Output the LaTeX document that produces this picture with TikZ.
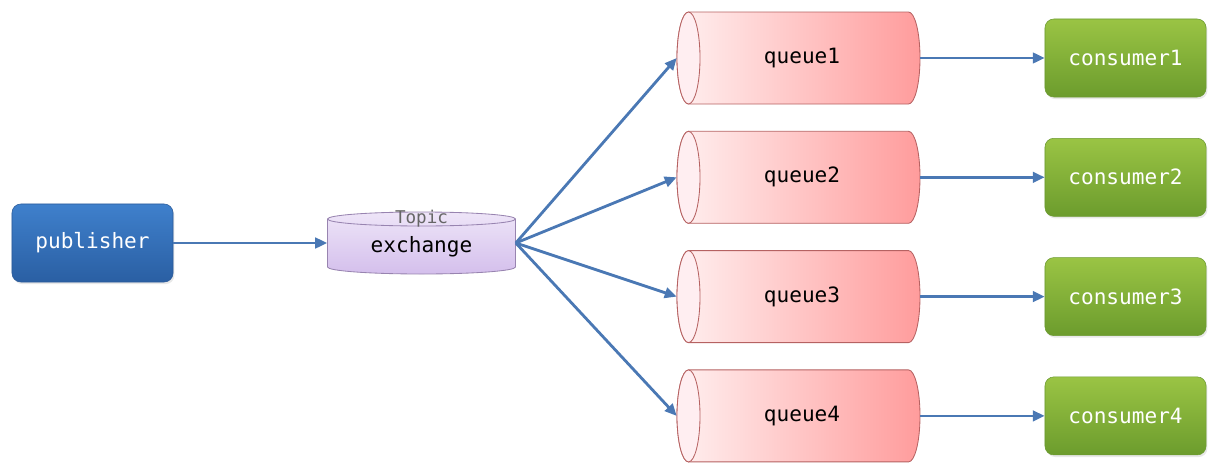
\documentclass[tikz,border=0pt]{standalone}
\usepackage{fontspec}
\setmonofont{DejaVu Sans Mono}
\usetikzlibrary{arrows.meta,shadows}

\definecolor{arrowblue}{HTML}{4A78B4}
\definecolor{pubtop}{HTML}{3F80CC}
\definecolor{pubbot}{HTML}{2A5FA3}
\definecolor{pubedge}{HTML}{2B5A98}
\definecolor{contop}{HTML}{9AC444}
\definecolor{conbot}{HTML}{6C9C2D}
\definecolor{conedge}{HTML}{6B9A31}
\definecolor{exctop}{HTML}{EEE5F8}
\definecolor{excbot}{HTML}{D4BFEC}
\definecolor{excedge}{HTML}{9884B0}
\definecolor{qleft}{HTML}{FFF0F0}
\definecolor{qright}{HTML}{FF9C9C}
\definecolor{qface}{HTML}{FFEEF1}
\definecolor{qedge}{HTML}{B66262}

\begin{document}
\begin{tikzpicture}[x=0.025cm, y=0.025cm,
    flow/.style={draw=arrowblue, line width=2pt, -{Triangle[length=8.5pt,width=7.5pt]}},
    box/.style={rounded corners=0.22cm, minimum width=4.025cm, minimum height=1.95cm,
      font=\ttfamily\fontsize{15}{18}\selectfont, text=white,
      drop shadow={opacity=0.18, shadow xshift=1pt, shadow yshift=-1.5pt}},
    pubbox/.style={box, draw=pubedge, top color=pubtop, bottom color=pubbot},
    conbox/.style={box, draw=conedge, top color=contop, bottom color=conbot},
    qtext/.style={font=\ttfamily\fontsize{15}{18}\selectfont, text=black},
    qnode/.style={qtext, minimum width=6.075cm, minimum height=2.3cm, inner sep=0pt},
    exnode/.style={minimum width=4.7cm, minimum height=1.2cm, inner sep=0pt},
    topictext/.style={font=\ttfamily\fontsize{12.5}{15}\selectfont, text=black!60}]
    \useasboundingbox (0,0) rectangle (1227,470);

    % Publisher
    \node[pubbox] (pub) at (92.5,227) {publisher};

    % Exchange cylinder (vertical)
    \shadedraw[top color=exctop, bottom color=excbot, draw=excedge, line width=0.6pt]
      (327.5,251) -- (327.5,203) arc (180:360:94 and 7) -- (515.5,251) arc (0:180:94 and 7) -- cycle;
    \draw[excedge, line width=0.6pt] (327.5,251) arc (180:360:94 and 7);
    \node[exnode] (ex) at (421.5,227) {};
    \node[topictext] (extype) at (421.5,251) {Topic};
    \node[qtext] (exname) at (421.5,223) {exchange};

    \draw[flow] (pub.east) -- (ex.west);

    % Queues, lying cylinders, and their consumers
    \foreach \i in {1,...,4} {
      \pgfmathsetmacro{\y}{412-119.3*(\i-1)}
      \shadedraw[left color=qleft, right color=qright, draw=qedge, line width=0.6pt]
        (688.5,\y+46) -- (908.5,\y+46) arc (90:-90:11.5 and 46)
        -- (688.5,\y-46) arc (270:90:11.5 and 46) -- cycle;
      % front face
      \filldraw[fill=qface, draw=qedge, line width=0.6pt] (688.5,\y) ellipse (11.5 and 46);
      \node[qnode] (q\i) at (798.5,\y) {\hspace*{5pt}queue\i};
      \node[conbox] (c\i) at (1125.5,\y) {consumer\i};
      \draw[flow] (ex.east) -- (q\i.west);
      \draw[flow] (q\i.east) -- (c\i.west);
    }
\end{tikzpicture}
\end{document}
